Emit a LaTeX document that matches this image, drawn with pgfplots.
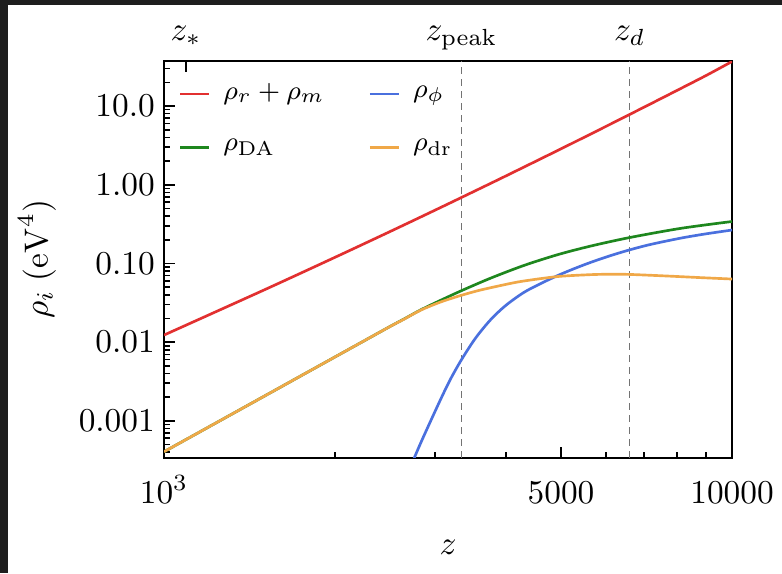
\documentclass[border=0pt]{standalone}
\usepackage{pgfplots}
\pgfplotsset{compat=1.18}
\definecolor{cRed}{RGB}{226,48,48}
\definecolor{cGreen}{RGB}{30,135,30}
\definecolor{cBlue}{RGB}{74,112,222}
\definecolor{cOrange}{RGB}{240,168,72}
\definecolor{bgDark}{RGB}{30,30,30}
\newcommand{\tickfont}{\fontsize{10.2}{12}\selectfont}
\newcommand{\legfont}{\fontsize{8.4}{10}\selectfont}
\begin{document}
\begin{tikzpicture}
% dark screenshot border
\fill[bgDark] (-49.2pt,-34.59pt) rectangle (185.4pt,137.31pt);
\fill[white] (-46.8pt,-34.59pt) rectangle (185.4pt,135.81pt);
\path[use as bounding box] (-49.2pt,-34.59pt) rectangle (185.4pt,137.31pt);
\begin{axis}[
  at={(0,0)}, anchor=south west,
  scale only axis, width=170.4pt, height=119.0pt,
  xmode=log, ymode=log,
  xmin=1000, xmax=10000, ymin=3.4e-4, ymax=37.3,
  axis line style={line width=0.6pt},
  xtick={1000,5000,10000}, xticklabels={$10^3$,$5000$,$10000$},
  minor xtick={2000,3000,4000,6000,7000,8000,9000},
  ytick={0.001,0.01,0.1,1,10},
  yticklabels={$0.001$,$0.01$,$0.10$,$1.00$,$10.0$},
  minor ytick={4e-4,5e-4,6e-4,7e-4,8e-4,9e-4,
    2e-3,3e-3,4e-3,5e-3,6e-3,7e-3,8e-3,9e-3,
    0.02,0.03,0.04,0.05,0.06,0.07,0.08,0.09,
    0.2,0.3,0.4,0.5,0.6,0.7,0.8,0.9,
    2,3,4,5,6,7,8,9,20,30},
  xtick pos=left, ytick pos=left,
  tick align=inside,
  major tick length=3.3pt, minor tick length=1.8pt,
  tick style={line width=0.5pt, black},
  tick label style={font=\tickfont},
  xticklabel style={anchor=base, yshift=-13.6pt},
  yticklabel style={inner sep=0pt, xshift=-2.6pt},
  legend columns=2, transpose legend,
  legend cell align=left,
  legend image code/.code={\draw[#1] (0pt,0pt) -- (8.7pt,0pt);},
  legend style={draw=none, fill=none, at={(0,1)}, anchor=north west,
    xshift=4.2pt, yshift=-6.5pt, inner sep=0pt, font=\legfont,
    row sep=10.5pt,
    nodes={inner sep=0pt},
    /tikz/column 1/.style={column sep=3.9pt},
    /tikz/column 2/.style={column sep=13.2pt},
    /tikz/column 3/.style={column sep=3.9pt}},
]
\addplot[forget plot, black!55, line width=0.4pt, dash pattern=on 2.1pt off 1.5pt]
  coordinates {(3341,3.4e-4) (3341,37.3)};
\addplot[forget plot, black!55, line width=0.4pt, dash pattern=on 2.1pt off 1.5pt]
  coordinates {(6607,3.4e-4) (6607,37.3)};

\addplot[cRed, line width=0.8pt, smooth] coordinates {
  (1000,0.0123) (1500,0.0460) (2000,0.1196) (2500,0.2542) (3000,0.4750)
  (3500,0.8111) (4000,1.2955) (5000,2.861) (6000,5.516) (7000,9.667)
  (8000,15.785) (9000,24.41) (10000,36.8)};
\addlegendentry{$\rho_r+\rho_m$}

\addplot[cGreen, line width=0.8pt, smooth] coordinates {
  (1000,4.05e-4) (1250,9.89e-4) (1500,2.05e-3) (1750,3.80e-3) (2000,6.48e-3)
  (2250,0.01038) (2500,0.01582) (2650,0.0198) (2828,0.0256) (3068,0.03398)
  (3341,0.04512) (3758,0.0650) (4297,0.0940) (4933,0.1293)
  (5641,0.1664) (6607,0.2134) (8130,0.2793) (10000,0.3411)};
\addlegendentry{$\rho_{\mathrm{DA}}$}

\addplot[cBlue, line width=0.8pt, smooth] coordinates {
  (2716,2.55e-4) (2760,3.42e-4) (2828,5.15e-4) (2909,8.10e-4) (3068,1.865e-3)
  (3195,3.398e-3) (3341,6.01e-3) (3536,0.01127) (3758,0.01926) (3995,0.02918)
  (4297,0.04267) (4604,0.05552) (4933,0.07019) (5264,0.0854) (5641,0.1033)
  (6117,0.1260) (6607,0.1489) (7194,0.1746) (8130,0.2099) (8997,0.2377)
  (10000,0.2657)};
\addlegendentry{$\rho_\phi$}

\addplot[cOrange, line width=0.8pt, smooth] coordinates {
  (1000,4.05e-4) (1250,9.89e-4) (1500,2.05e-3) (1750,3.80e-3) (2000,6.48e-3)
  (2250,0.01038) (2500,0.01580) (2650,0.0197) (2828,0.0254) (3068,0.03232)
  (3341,0.03944) (3608,0.04592) (4025,0.05472) (4297,0.05975) (4933,0.06817)
  (5641,0.07206) (6117,0.07291) (6607,0.07248) (7709,0.06916) (8816,0.0660)
  (10000,0.06335)};
\addlegendentry{$\rho_{\mathrm{dr}}$}

\coordinate (zs) at (axis cs:1093,37.3);
\coordinate (zp) at (axis cs:3341,37.3);
\coordinate (zd) at (axis cs:6607,37.3);
\end{axis}
\draw[line width=0.5pt] (zs) -- ++(0,-3.3pt);
\node[anchor=base, font=\tickfont] at ([yshift=6.3pt]zs) {$z_*$};
\node[anchor=base, font=\tickfont] at ([yshift=6.3pt]zp) {$z_{\mathrm{peak}}$};
\node[anchor=base, font=\tickfont] at ([yshift=6.3pt]zd) {$z_d$};
\node[font=\tickfont] at (85.2pt,-27pt) {$z$};
\node[rotate=90, font=\tickfont] at (-38.1pt,59.5pt) {$\rho_i\;(\mathrm{eV}^4)$};
\end{tikzpicture}
\end{document}
